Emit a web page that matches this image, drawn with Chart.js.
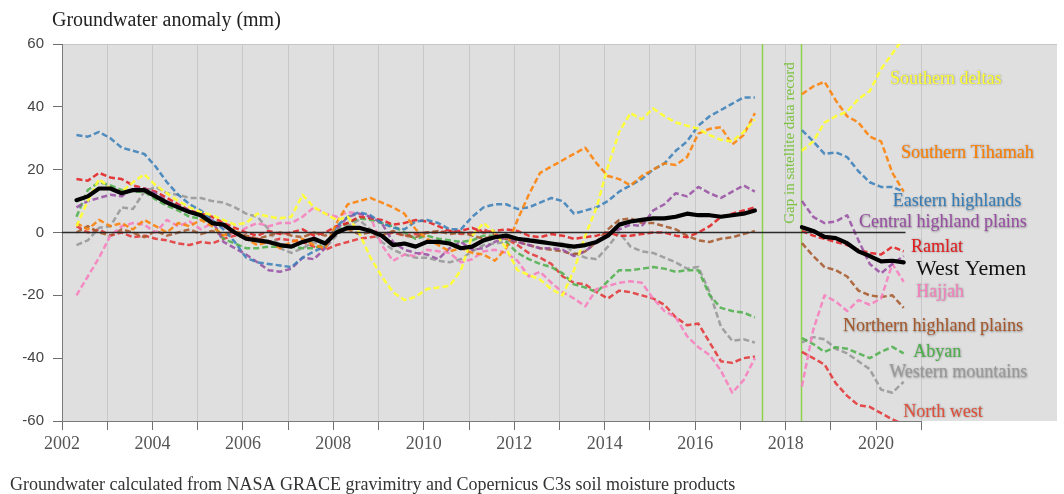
<!DOCTYPE html>
<html><head><meta charset="utf-8">
<script src="https://cdn.jsdelivr.net/npm/chart.js@4/dist/chart.umd.min.js"></script>
<style>html,body{margin:0;padding:0;background:#fff;}canvas{display:block;}</style>
</head><body>
<canvas id="c" width="1064" height="494"></canvas>
<script>
// ---- time axes (decimal years) ----
const yearsA = [2002.32,2002.57,2002.82,2003.07,2003.32,2003.57,2003.82,2004.07,2004.32,2004.57,2004.82,2005.07,2005.32,2005.57,2005.82,2006.07,2006.32,2006.57,2006.82,2007.07,2007.32,2007.57,2007.82,2008.07,2008.32,2008.57,2008.82,2009.07,2009.32,2009.57,2009.82,2010.07,2010.32,2010.57,2010.82,2011.07,2011.32,2011.57,2011.82,2012.07,2012.32,2012.57,2012.82,2013.07,2013.32,2013.57,2013.82,2014.07,2014.32,2014.57,2014.82,2015.07,2015.32,2015.57,2015.82,2016.07,2016.32,2016.57,2016.82,2017.07,2017.32];
const yearsB = [2018.36,2018.61,2018.86,2019.11,2019.36,2019.61,2019.86,2020.11,2020.36,2020.61];

// ---- series values (mm) ----
const southernDeltasA = [2,10,17,14,13,16,18.5,15,12.5,10,8,6.5,5.5,4,2.5,3,6,5,4.5,5,12,8,6,4,5,0,-8,-14,-19,-21.5,-20.5,-18,-17.5,-17,-12,-1,3,0,-5,-12,-13.5,-15,-18,-20,-12,-1,8,21,32,38,36,39.5,37,35,34,33,31,29.5,29,32,36];
const southernDeltasB = [26,29,35,37,38.5,42.5,45,52,57,62];
const southernTihamahA = [3,1,4,2,3,1,4,2,0,3,2,4,2,-1,1,-2,-4,-3,-5,-3,-2,-4,-5,3,9,10,11,9.5,8,6,1,-2,-4,-6,-5,-6.5,-7,-9,-5,4,12,19,21,23,25,27,22,18,17,15,18,20,22,21.5,24,31.5,33,33.5,28,31,38];
const southernTihamahB = [44,46.5,48,42,37,35,30.5,29,19,13];
const easternHighlandsA = [31,30.5,32,30,27,26,25,21,16,12,9,7,4,1,-3,-8,-9.5,-10,-10.5,-11,-8,-6,-4.5,2,5,6.5,5.5,3,1.5,1,3.5,4,3,1,1,5,8,9,9,7.5,8,9.5,11,10,6,7,8,10,13,15,17,20,22,26,29,34,37,39,41,43,43];
const easternHighlandsB = [32.6,29,25,25.5,24,19.5,16,14.5,14.5,13];
const centralPlainsA = [8,10,11,12,11.5,14,14,12.5,10,8.5,7,5,4,-3,-5,-7,-9.5,-12,-12.5,-11.5,-8,-8.5,-5,1,5,6,5,3,-3,-5.5,-6.5,-7,-8.5,-5,-3,-5.5,-5,-3,-1.5,-3,-4,-5,-5,-5.5,-7.5,-6,-3,-0.5,1,2.5,2,7,9,12.5,11.5,14.5,12.5,11,13,15,13];
const centralPlainsB = [10,5,3,3.5,5.5,-2.5,-10,-13,-10,-7.5];
const ramlatA = [17,16.5,19,17.5,17,15,14,13,11,9,7,6,5,3,1.5,0,-1,0.5,-0.5,0,1,-1,0,2,3,5,4.5,4,2.5,3,4,3.5,2,0.5,0.5,1.5,0,0.5,1,0.5,-1,-1.5,-0.5,-1,-2,-1.5,-1,0,-1,-1,-0.5,0,0,-1,-1.5,0,2,5,6,7,8];
const ramlatB = [0.5,-1,-2,-3,-4,-5.5,-6.5,-7,-4.5,-6];
const westYemenA = [10.3,11.5,14,14,12.5,13.5,13.5,11.5,9.5,8,6.5,5.5,3,2.5,0,-2,-2.5,-3,-4,-4.5,-3,-2,-3.5,0,1.5,1.5,0.5,-1,-4,-3.5,-4.5,-3,-3,-3.5,-5,-4.5,-2.5,-1.5,-1,-2,-2.5,-3,-3.5,-4,-4.5,-4,-3,-1,2.5,3.5,4,4.5,4.5,5,6,5.5,5.5,5,5.5,6,7];
const westYemenB = [1.7,0.5,-1.4,-1.8,-3.4,-6,-7.5,-9.2,-9,-9.5];
const hajjahA = [-20,-14,-8,-1,2,3,2.5,0,4,2,3.5,1,3,2,-1,1.5,3,2,3,3,5,8,6,5,6.5,6,5,-4,-9,-7,-7.5,-5.5,-6,-6.5,-9.5,-8.5,-6,-5.5,-6.5,-9,-14,-12.5,-16,-19,-21,-23.5,-18,-17,-16,-15.5,-16,-21,-25,-27,-33,-36.5,-39,-44,-51,-47,-40];
const hajjahB = [-49,-31,-20,-22,-25,-21.5,-23,-21,-10,-15.7];
const northernPlainsA = [0,2,0,-1,1,0,-1.5,0.5,-1,0,1,-0.5,0.5,-1,0,-1,-2,-1,0,-1,-1.5,0,-1,0.5,1,-0.5,0,-1,0.5,-1,-1.5,0,0.5,-0.5,0,-1,-2,-1,-2,-3,-4,-5,-5.5,-6,-7,-6,-3,1,4,4.5,3,3,2,1,-1,-2.5,-3,-2,-1.5,-0.5,0.5];
const northernPlainsB = [-3.4,-7.5,-11,-12,-14,-18.5,-20,-20.5,-20,-24];
const abyanA = [5,13.5,16,15,13.5,13,13,10.5,8.5,7,5,4.5,3,-2,-3.5,-5,-5,-4.5,-4.5,-4.5,-5,-5,-3.5,0.5,3,4.5,4,3,2,0,-2,-1,-2,-2.5,-3,-2.5,-1,-1,-3,-6.5,-8.5,-10,-11,-13,-16.5,-17.5,-19,-15.5,-12,-12,-11.5,-11,-11.5,-12.5,-12,-12,-20,-24,-25,-25.5,-27];
const abyanB = [-33.6,-35.5,-38,-36.5,-37,-38.5,-40,-38,-36.4,-38.5];
const westernMountainsA = [-4,-2.5,1.5,2,8,7.5,13,14.5,12.5,12,11,11,10,9.5,8,6,5,1,-5,-6.5,-5,-3,-5,-1,2,4,1,-3,-5.5,-7,-8,-8,-9,-9.5,-8.5,-6,-4,-3.5,-3,-2,-2,-2.5,-3.5,-3.5,-6.5,-8,-8.5,-4.5,0,-4.5,-6,-6.5,-8,-9.5,-11.5,-11,-19,-30,-34.5,-34,-35];
const westernMountainsB = [-35,-33.3,-34,-37,-38.5,-41,-43.5,-50,-51,-47.5];
const northWestA = [2,0,1,-1,0,-1.5,-1,-2,-2.5,-3.5,-4,-3,-3.5,-2,-1,-1.5,-2,-3,-2,-2.5,-3,-4.5,-5.5,-4,-3,-2,-1.5,-1,0,-1,-0.5,0,0,0.5,-0.5,0,1,-0.5,-2,-4,-6.5,-8,-10,-14,-16,-16.5,-19,-21,-18.5,-19,-20,-21,-23,-27,-29.5,-29,-35,-41,-41.5,-40,-39.5];
const northWestB = [-38,-40,-42,-48,-52,-55,-55.5,-57.5,-59.5,-61];

// ---- axis / annotation values ----
const xTickYears = [2002,2003,2004,2005,2006,2007,2008,2009,2010,2011,2012,2013,2014,2015,2016,2017,2018,2019,2020,2021];
const xTickLabels = ['2002','2004','2006','2008','2010','2012','2014','2016','2018','2020'];
const yTickValues = [-60,-40,-20,0,20,40,60];
const zeroLineYears = [2002, 2020.65];
const zeroLineValues = [0, 0];
const gapYears = [2017.47, 2018.35];
const gapBreakYear = 2017.9;

const titleText = 'Groundwater anomaly (mm)';
const footerText = 'Groundwater calculated from NASA GRACE gravimitry and Copernicus C3s soil moisture products';
const gapText = 'Gap in satellite data record';

// ---- series definitions (name, data, style, label anchor) ----
const series = [
  {name:'Southern deltas', a:southernDeltasA, b:southernDeltasB, color:'rgba(255,255,51,0.95)', text:'#ffff33', lx:2020.31, ly:48.9},
  {name:'Southern Tihamah', a:southernTihamahA, b:southernTihamahB, color:'rgba(255,127,0,0.85)', text:'#ff7f00', lx:2020.55, ly:25.3},
  {name:'Eastern highlands', a:easternHighlandsA, b:easternHighlandsB, color:'rgba(55,126,184,0.85)', text:'#377eb8', lx:2020.37, ly:9.8},
  {name:'Central highland plains', a:centralPlainsA, b:centralPlainsB, color:'rgba(152,78,163,0.85)', text:'#984ea3', lx:2019.62, ly:3.1},
  {name:'Ramlat', a:ramlatA, b:ramlatB, color:'rgba(228,26,28,0.85)', text:'#e41a1c', lx:2020.77, ly:-4.6},
  {name:'Hajjah', a:hajjahA, b:hajjahB, color:'rgba(247,129,191,0.9)', text:'#f781bf', lx:2020.88, ly:-19.0},
  {name:'Northern highland plains', a:northernPlainsA, b:northernPlainsB, color:'rgba(166,86,40,0.85)', text:'#a65628', lx:2019.27, ly:-30.0},
  {name:'Abyan', a:abyanA, b:abyanB, color:'rgba(77,175,74,0.85)', text:'#4daf4a', lx:2020.82, ly:-38.0},
  {name:'Western mountains', a:westernMountainsA, b:westernMountainsB, color:'rgba(153,153,153,0.9)', text:'#999999', lx:2020.29, ly:-44.5},
  {name:'North west', a:northWestA, b:northWestB, color:'rgba(228,26,28,0.75)', text:'#e0503a', lx:2020.6, ly:-57.1}
];
const westYemen = {name:'West Yemen', a:westYemenA, b:westYemenB, color:'#000', text:'#111', lx:2020.88, ly:-11.8};

const SERIF = "'Liberation Serif','Times New Roman',serif";
const SANS = "'Liberation Sans',Arial,sans-serif";

function buildPoints(a, b){
  const out = yearsA.map((x,i)=>({x:x, y:a[i]}));
  out.push({x:gapBreakYear, y:null});
  yearsB.forEach((x,i)=>out.push({x:x, y:b[i]}));
  return out;
}

const datasets = series.map(s=>({
  label:s.name, data:buildPoints(s.a, s.b), borderColor:s.color, borderWidth:2.5,
  borderDash:[6,3], pointRadius:0, tension:0, spanGaps:false, clip:0, order:3
}));
datasets.push({
  label:'zero', data:zeroLineYears.map((x,i)=>({x:x, y:zeroLineValues[i]})),
  borderColor:'#2b2b2b', borderWidth:1.6, pointRadius:0, clip:0, order:2
});
datasets.push({
  label:westYemen.name, data:buildPoints(westYemen.a, westYemen.b), borderColor:'#000',
  borderWidth:4.2, pointRadius:0, tension:0, spanGaps:false, clip:0, order:1,
  borderJoinStyle:'round', borderCapStyle:'round'
});

const annot = {
  id:'annot',
  beforeDraw(chart){
    const {ctx, chartArea:a} = chart;
    ctx.save();
    ctx.fillStyle = '#dfdfdf';
    ctx.fillRect(a.left, a.top, a.right-a.left, a.bottom-a.top);
    ctx.strokeStyle = '#c6c6c6'; ctx.lineWidth = 1;
    ctx.beginPath(); ctx.moveTo(a.left, a.top+0.5); ctx.lineTo(a.right, a.top+0.5); ctx.stroke();
    ctx.restore();
  },
  beforeDatasetsDraw(chart){
    const {ctx, chartArea:a, scales:{x,y}} = chart;
    ctx.save();
    ctx.strokeStyle = '#8fd14f'; ctx.lineWidth = 1.5;
    gapYears.forEach(g=>{
      const px = Math.round(x.getPixelForValue(g))+0.5;
      ctx.beginPath(); ctx.moveTo(px, a.top); ctx.lineTo(px, a.bottom); ctx.stroke();
    });
    const cx = x.getPixelForValue((gapYears[0]+gapYears[1])/2) + 8;
    const cy = y.getPixelForValue(28.5);
    ctx.translate(cx, cy); ctx.rotate(-Math.PI/2);
    ctx.fillStyle = '#7cc142'; ctx.font = '15px '+SERIF;
    ctx.textAlign = 'center'; ctx.textBaseline = 'middle';
    ctx.fillText(gapText, 0, 0);
    ctx.restore();
  },
  afterDatasetsDraw(chart){
    const {ctx, scales:{x,y}} = chart;
    ctx.save();
    ctx.textAlign = 'left'; ctx.textBaseline = 'middle';
    series.forEach(s=>{
      ctx.font = '18px '+SERIF;
      ctx.shadowColor = 'rgba(60,60,60,0.55)'; ctx.shadowBlur = 2; ctx.shadowOffsetX = 0.5; ctx.shadowOffsetY = 0.5;
      ctx.fillStyle = s.text;
      ctx.fillText(s.name, x.getPixelForValue(s.lx), y.getPixelForValue(s.ly));
    });
    ctx.shadowColor = 'rgba(0,0,0,0)';
    ctx.font = '22px '+SERIF; ctx.fillStyle = westYemen.text;
    ctx.fillText(westYemen.name, x.getPixelForValue(westYemen.lx), y.getPixelForValue(westYemen.ly));
    ctx.restore();
  },
  afterDraw(chart){
    const {ctx, chartArea:a, scales:{x}} = chart;
    ctx.save();
    ctx.strokeStyle = '#7a7a7a'; ctx.lineWidth = 1;
    ctx.beginPath();
    ctx.moveTo(x.getPixelForValue(xTickYears[0]), a.bottom+0.5);
    ctx.lineTo(x.getPixelForValue(xTickYears[xTickYears.length-1])+0.5, a.bottom+0.5);
    ctx.stroke();
    ctx.fillStyle = '#222'; ctx.font = '20px '+SERIF; ctx.textAlign = 'left'; ctx.textBaseline = 'alphabetic';
    ctx.fillText(titleText, 52, 26);
    ctx.fillStyle = '#333'; ctx.font = '18px '+SERIF;
    ctx.fillText(footerText, 10, 490);
    ctx.restore();
  }
};

new Chart(document.getElementById('c'), {
  type:'line',
  data:{datasets:datasets},
  options:{
    responsive:false, animation:false, devicePixelRatio:1,
    layout:{padding:{top:44, right:7, left:0, bottom:0}},
    plugins:{legend:{display:false}, tooltip:{enabled:false}, title:{display:false}},
    elements:{line:{borderJoinStyle:'round'}},
    scales:{
      x:{
        type:'linear', min:2002, max:2024,
        afterBuildTicks(scale){ scale.ticks = xTickYears.map(v=>({value:v})); },
        afterFit(scale){ scale.height = 73; },
        grid:{color:'#c8c8c8', lineWidth:1, tickColor:'#6f6f6f', tickLength:9, drawOnChartArea:true},
        border:{display:false},
        ticks:{autoSkip:false, maxRotation:0, padding:3, color:'#555',
          font:{family:SERIF, size:18},
          callback(v){ const s = String(v); return xTickLabels.includes(s) ? s : ''; }}
      },
      y:{
        type:'linear', min:-60, max:60,
        afterBuildTicks(scale){ scale.ticks = yTickValues.map(v=>({value:v})); },
        afterFit(scale){ scale.width = 62; },
        grid:{drawOnChartArea:false, tickColor:'#6f6f6f', tickLength:9},
        border:{display:true, color:'#7a7a7a', width:1},
        ticks:{padding:9, color:'#444', font:{family:SANS, size:15}}
      }
    }
  },
  plugins:[annot]
});
</script>
</body></html>
